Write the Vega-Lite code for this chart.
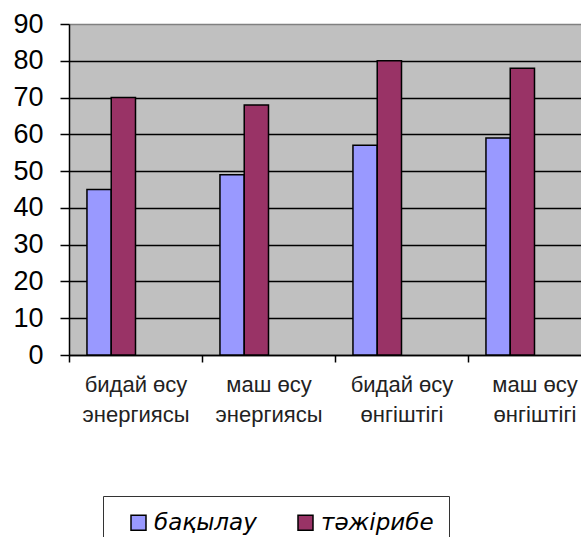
{
  "$schema": "https://vega.github.io/schema/vega-lite/v6.json",
  "width": 512,
  "height": 331,
  "autosize": "none",
  "padding": {"left": 69, "top": 24, "right": 0, "bottom": 182},
  "background": "white",
  "config": {"view": {"fill": "#C0C0C0", "stroke": null}, "font": "Liberation Sans"},
  "data": {"values": [
    {"category": "бидай өсу энергиясы", "series": "бақылау", "value": 45},
    {"category": "бидай өсу энергиясы", "series": "тәжірибе", "value": 70},
    {"category": "маш өсу энергиясы", "series": "бақылау", "value": 49},
    {"category": "маш өсу энергиясы", "series": "тәжірибе", "value": 68},
    {"category": "бидай өсу өнгіштігі", "series": "бақылау", "value": 57},
    {"category": "бидай өсу өнгіштігі", "series": "тәжірибе", "value": 80},
    {"category": "маш өсу өнгіштігі", "series": "бақылау", "value": 59},
    {"category": "маш өсу өнгіштігі", "series": "тәжірибе", "value": 78}
  ]},
  "mark": {"type": "bar", "stroke": "black", "strokeWidth": 1.5},
  "encoding": {
    "x": {
      "field": "category", "type": "nominal", "sort": null,
      "scale": {"range": [0, 532], "paddingInner": 0, "paddingOuter": 0},
      "axis": {
        "title": null, "tickBand": "extent", "tickSize": 7, "tickColor": "black", "tickWidth": 1.5,
        "domainColor": "black", "domainWidth": 1.5,
        "labelFontSize": 22, "labelColor": "#222222", "labelAngle": 0, "labelPadding": 12,
        "labelLineHeight": 30, "labelLimit": 1000, "labelOverlap": false, "labelFlush": false, "labelBound": false,
        "labelExpr": "[slice(datum.label, 0, lastindexof(datum.label, ' ')), slice(datum.label, lastindexof(datum.label, ' ') + 1)]"
      }
    },
    "xOffset": {
      "field": "series", "type": "nominal",
      "scale": {"domain": ["бақылау", "тәжірибе", "_c", "_d"], "paddingInner": 0, "paddingOuter": 0.74}
    },
    "y": {
      "field": "value", "type": "quantitative",
      "scale": {"domain": [0, 90], "nice": false},
      "axis": {
        "title": null, "values": [0, 10, 20, 30, 40, 50, 60, 70, 80, 90],
        "labelFontSize": 27, "labelColor": "black", "labelPadding": 17,
        "tickSize": 9, "tickColor": "black", "tickWidth": 1.5,
        "domainColor": "black", "domainWidth": 1.5,
        "grid": true, "gridOpacity": 1, "gridWidth": 1.3,
        "gridColor": {"condition": {"test": "datum.value == 90", "value": "#808080"}, "value": "black"}
      }
    },
    "color": {
      "field": "series", "type": "nominal",
      "scale": {"domain": ["бақылау", "тәжірибе"], "range": ["#9999FF", "#993366"]},
      "legend": {
        "title": null, "orient": "none", "legendX": 34, "legendY": 472, "direction": "horizontal",
        "strokeColor": "#333333", "padding": 15, "symbolOffset": 9,
        "symbolType": "square", "symbolSize": 225, "symbolStrokeColor": "black", "symbolStrokeWidth": 1.5, "symbolOpacity": 1,
        "labelFont": "DejaVu Sans", "labelFontSize": 23, "labelFontStyle": "italic", "labelColor": "black", "labelOffset": 4,
        "columnPadding": 28
      }
    }
  }
}
